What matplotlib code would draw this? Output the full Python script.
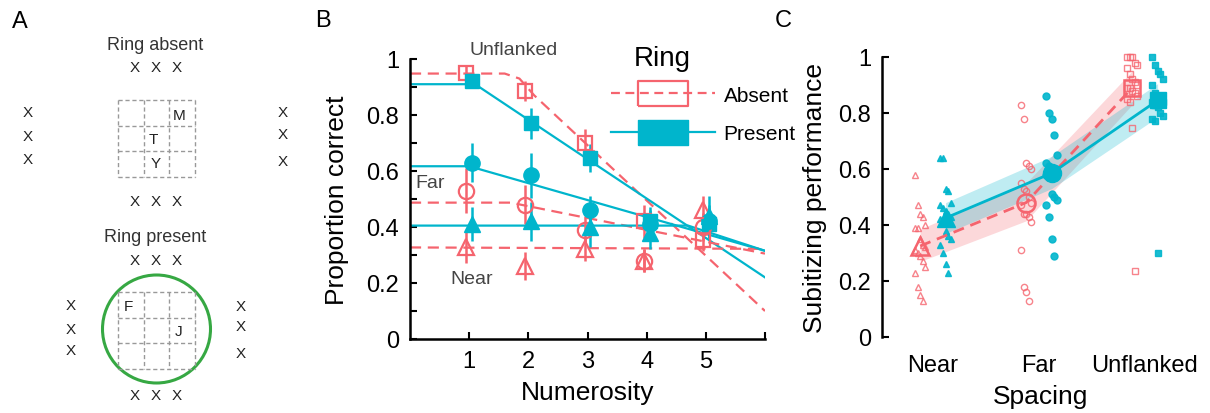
import matplotlib
matplotlib.use("Agg")
import matplotlib.pyplot as plt
from matplotlib.lines import Line2D
from matplotlib.patches import Circle

plt.rcParams["font.family"] = ["Liberation Sans", "DejaVu Sans"]

RED = "#F5646E"
CYAN = "#00B5CC"

# ---------------- panel B data ----------------
numerosity = [1, 2, 3, 4, 5]
conditions = ["Unflanked", "Far", "Near"]
markers = {"Unflanked": "s", "Far": "o", "Near": "^"}

absent_mean = {
    "Unflanked": [0.95, 0.885, 0.70, 0.42, 0.355],
    "Far": [0.53, 0.48, 0.39, 0.28, 0.40],
    "Near": [0.33, 0.26, 0.32, 0.28, 0.46],
}
absent_err = {
    "Unflanked": [0.03, 0.035, 0.05, 0.06, 0.04],
    "Far": [0.08, 0.07, 0.05, 0.04, 0.05],
    "Near": [0.06, 0.05, 0.04, 0.04, 0.05],
}
present_mean = {
    "Unflanked": [0.92, 0.77, 0.645, 0.42, 0.41],
    "Far": [0.63, 0.585, 0.46, 0.41, 0.42],
    "Near": [0.41, 0.42, 0.40, 0.38, 0.44],
}
present_err = {
    "Unflanked": [0.02, 0.055, 0.05, 0.05, 0.05],
    "Far": [0.07, 0.08, 0.05, 0.05, 0.06],
    "Near": [0.06, 0.07, 0.07, 0.06, 0.07],
}

# fitted bilinear curves (vertices)
absent_fit_x = {
    "Unflanked": [0, 1.6, 1.85, 2.1, 6],
    "Far": [0, 1.7, 6],
    "Near": [0, 6],
}
absent_fit_y = {
    "Unflanked": [0.948, 0.948, 0.93, 0.87, 0.10],
    "Far": [0.487, 0.487, 0.305],
    "Near": [0.327, 0.322],
}
present_fit_x = {
    "Unflanked": [0, 1.1, 6],
    "Far": [0, 1.0, 6],
    "Near": [0, 4.7, 6],
}
present_fit_y = {
    "Unflanked": [0.91, 0.91, 0.22],
    "Far": [0.617, 0.617, 0.315],
    "Near": [0.405, 0.405, 0.315],
}

# ---------------- panel C data ----------------
spacing = ["Near", "Far", "Unflanked"]
subj_absent = [
    [0.58, 0.47, 0.44, 0.43, 0.40, 0.39, 0.39, 0.35, 0.33, 0.32,
     0.31, 0.30, 0.29, 0.27, 0.25, 0.23, 0.18, 0.15, 0.13],
    [0.83, 0.78, 0.62, 0.61, 0.60, 0.55, 0.53, 0.52, 0.50, 0.48,
     0.47, 0.44, 0.44, 0.43, 0.41, 0.31, 0.18, 0.16, 0.13],
    [1.0, 1.0, 1.0, 0.98, 0.97, 0.96, 0.94, 0.92, 0.91, 0.90,
     0.89, 0.89, 0.88, 0.87, 0.86, 0.85, 0.84, 0.745, 0.235],
]
subj_present = [
    [0.64, 0.64, 0.53, 0.52, 0.48, 0.47, 0.46, 0.45, 0.44, 0.43,
     0.42, 0.41, 0.38, 0.36, 0.35, 0.33, 0.30, 0.26, 0.23],
    [0.86, 0.80, 0.78, 0.72, 0.65, 0.62, 0.61, 0.60, 0.60, 0.59,
     0.58, 0.57, 0.51, 0.50, 0.49, 0.47, 0.43, 0.35, 0.29],
    [1.0, 0.97, 0.95, 0.94, 0.92, 0.90, 0.87, 0.86, 0.85, 0.84,
     0.84, 0.83, 0.82, 0.80, 0.79, 0.78, 0.77, 0.30],
]
grp_absent = [0.325, 0.48, 0.89]
grp_present = [0.425, 0.585, 0.845]
ci_absent_lo = [0.27, 0.415, 0.83]
ci_absent_hi = [0.385, 0.55, 0.95]
ci_present_lo = [0.37, 0.53, 0.785]
ci_present_hi = [0.48, 0.645, 0.905]

# ---------------- panel A layout (pixel coords) ----------------
stim_titles = ["Ring absent", "Ring present"]
title_y = [45, 238]
top_row_y = [68, 261]
bottom_row_y = [202, 396]
left_col_x = [28, 71]
right_col_x = [283, 241]
left_col_y = [[113, 137, 160], [306, 330, 351]]
right_col_y = [[113, 135, 162], [307, 327, 354]]
grid_top = [101, 293]
grid_letters = [[("M", 179, 116), ("T", 153, 140), ("Y", 156, 164)],
                [("F", 128, 307), ("J", 179, 332)]]

fig = plt.figure(figsize=(12.1, 4.14), dpi=100)

# ================= A =================
axA = fig.add_axes([0, 0, 300 / 1210, 1])
axA.set_xlim(0, 300)
axA.set_ylim(414, 0)
axA.axis("off")
xs_row = [135, 156, 177]
for k in range(2):
    axA.text(155, title_y[k], stim_titles[k], ha="center", va="center",
             fontsize=13, color="#333333")
    for x in xs_row:
        axA.text(x, top_row_y[k], "X", ha="center", va="center", fontsize=11, color="#222222")
        axA.text(x, bottom_row_y[k], "X", ha="center", va="center", fontsize=11, color="#222222")
    for y in left_col_y[k]:
        axA.text(left_col_x[k], y, "X", ha="center", va="center", fontsize=11, color="#222222")
    for y in right_col_y[k]:
        axA.text(right_col_x[k], y, "X", ha="center", va="center", fontsize=11, color="#222222")
    g0x, g0y, cell = 118, grid_top[k], 25.5
    for i in range(4):
        axA.plot([g0x, g0x + 3 * cell], [g0y + i * cell, g0y + i * cell],
                 color="#999999", lw=1, ls=(0, (3, 2)))
        axA.plot([g0x + i * cell, g0x + i * cell], [g0y, g0y + 3 * cell],
                 color="#999999", lw=1, ls=(0, (3, 2)))
    for ch, x, y in grid_letters[k]:
        axA.text(x, y, ch, ha="center", va="center", fontsize=11, color="#222222")
axA.add_patch(Circle((156.5, 330), 54, fill=False, ec="#36A843", lw=2.2))

# ================= B =================
axB = fig.add_axes([410 / 1210, 1 - 340 / 414, 355 / 1210, 280 / 414])
for c in conditions:
    axB.plot(absent_fit_x[c], absent_fit_y[c], color=RED, lw=1.6, ls=(0, (5, 3)))
    axB.plot(present_fit_x[c], present_fit_y[c], color=CYAN, lw=1.6)
for c in conditions:
    xa = [n - 0.05 for n in numerosity]
    xp = [n + 0.05 for n in numerosity]
    ms = 11 if markers[c] != "s" else 10
    axB.errorbar(xa, absent_mean[c], yerr=absent_err[c], fmt=markers[c], ms=ms,
                 mfc="none", mec=RED, mew=1.6, ecolor=RED, elinewidth=1.8, capsize=0,
                 clip_on=False)
    axB.errorbar(xp, present_mean[c], yerr=present_err[c], fmt=markers[c], ms=ms,
                 mfc=CYAN, mec=CYAN, ecolor=CYAN, elinewidth=1.8, capsize=0,
                 clip_on=False)
axB.set_xlim(0, 6)
axB.set_ylim(0, 1)
axB.set_xticks(numerosity)
axB.set_xticks([6], minor=True)
axB.set_yticks([0, 0.2, 0.4, 0.6, 0.8, 1.0])
axB.set_yticklabels(["0", "0.2", "0.4", "0.6", "0.8", "1"])
axB.set_yticks([0.1, 0.3, 0.5, 0.7, 0.9], minor=True)
axB.tick_params(which="both", direction="in", length=5, width=1.5, labelsize=17, pad=8)
axB.tick_params(axis="x", which="minor", length=5)
for s in ["top", "right"]:
    axB.spines[s].set_visible(False)
for s in ["left", "bottom"]:
    axB.spines[s].set_linewidth(1.8)
axB.set_xlabel("Numerosity", fontsize=19, labelpad=6)
axB.set_ylabel("Proportion correct", fontsize=19, labelpad=12)
axB.text(1.75, 1.035, "Unflanked", ha="center", va="center", fontsize=14, color="#444444")
axB.text(0.34, 0.56, "Far", ha="center", va="center", fontsize=14, color="#444444")
axB.text(1.05, 0.215, "Near", ha="center", va="center", fontsize=14, color="#444444")

rect = [(-1, -0.5), (1, -0.5), (1, 0.5), (-1, 0.5), (-1, -0.5)]
handles = [
    Line2D([], [], color=RED, lw=1.6, ls=(0, (4, 2.5)), marker=rect, ms=36,
           mfc="none", mec=RED, mew=1.6),
    Line2D([], [], color=CYAN, lw=1.6, marker=rect, ms=36, mfc=CYAN, mec=CYAN),
]
axB.legend(handles, ["Absent", "Present"], loc="upper left",
           bbox_to_anchor=(0.543, 0.935), frameon=False, fontsize=15,
           handlelength=5.0, handletextpad=0.4,
           labelspacing=0.95, borderaxespad=0)
axB.text(0.71, 1.005, "Ring", transform=axB.transAxes, ha="center", va="center",
         fontsize=20)

# ================= C =================
axC = fig.add_axes([882 / 1210, 1 - 338 / 414, 318 / 1210, 280 / 414])
pos = [1, 2, 3]
off = 0.12
xa = [p - off for p in pos]
xp = [p + off for p in pos]
axC.fill_between(xa, ci_absent_lo, ci_absent_hi, color=RED, alpha=0.25, lw=0)
axC.fill_between(xp, ci_present_lo, ci_present_hi, color=CYAN, alpha=0.25, lw=0)
mk = ["^", "o", "s"]
for k in range(3):
    va = subj_absent[k]
    vp = subj_present[k]
    jx_a = [xa[k] + ((i % 5) - 2) * 0.025 for i in range(len(va))]
    jx_p = [xp[k] + ((i % 5) - 2) * 0.025 for i in range(len(vp))]
    axC.plot(jx_a, va, ls="none", marker=mk[k], ms=4.5, mfc="none", mec=RED,
             mew=1.0, alpha=0.8, clip_on=False)
    axC.plot(jx_p, vp, ls="none", marker=mk[k], ms=5, mfc=CYAN, mec=CYAN,
             alpha=0.9, clip_on=False)
axC.plot(xa, grp_absent, color=RED, lw=2.0, ls=(0, (4, 2.5)))
axC.plot(xp, grp_present, color=CYAN, lw=2.0)
for k in range(3):
    ms = 13 if mk[k] != "s" else 11
    axC.plot(xa[k], grp_absent[k], marker=mk[k], ms=ms, mfc="none", mec=RED, mew=1.8)
    axC.plot(xp[k], grp_present[k], marker=mk[k], ms=ms, mfc=CYAN, mec=CYAN)
axC.set_xlim(0.52, 3.52)
axC.set_ylim(0, 1)
axC.set_xticks(pos)
axC.set_xticklabels(spacing)
axC.set_yticks([0, 0.2, 0.4, 0.6, 0.8, 1.0])
axC.set_yticklabels(["0", "0.2", "0.4", "0.6", "0.8", "1"])
axC.tick_params(axis="y", direction="in", length=5, width=1.5, labelsize=17, pad=8)
axC.tick_params(axis="x", length=0, labelsize=17, pad=12)
for s in ["top", "right", "bottom"]:
    axC.spines[s].set_visible(False)
axC.spines["left"].set_linewidth(1.8)
axC.set_xlabel("Spacing", fontsize=19, labelpad=6)
axC.set_ylabel("Subitizing performance", fontsize=19, labelpad=8)

# panel letters
fig.text(20 / 1210, 1 - 22 / 414, "A", fontsize=17, ha="center", va="center")
fig.text(323 / 1210, 1 - 21 / 414, "B", fontsize=17, ha="center", va="center")
fig.text(783 / 1210, 1 - 21 / 414, "C", fontsize=17, ha="center", va="center")

fig.savefig("out.png", dpi=100)
